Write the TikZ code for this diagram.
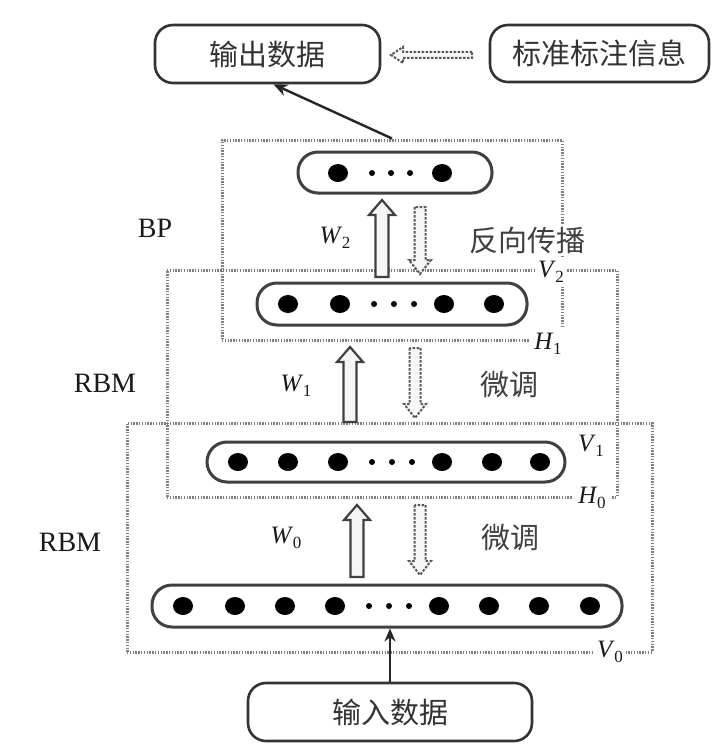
\documentclass[tikz,border=0pt]{standalone}
\usepackage{fontspec}
\setmainfont{Liberation Serif}
\newfontfamily\cjk{Noto Sans CJK SC}
\usetikzlibrary{arrows.meta,shapes.geometric}
\newcommand\sublab[2]{\textit{#1}\kern-0.5pt\raisebox{-0.45ex}{\fontsize{17}{18}\selectfont #2}}
\newcommand\hollowupar[3]{%
  \draw[hollowup] (#1-6.5,#2) -- (#1-6.5,#3+15) -- (#1-13,#3+15) -- (#1,#3) -- (#1+13,#3+15) -- (#1+6.5,#3+15) -- (#1+6.5,#2) -- cycle;}
\newcommand\hollowdownar[3]{%
  \draw[hollowdown] (#1-5.5,#2) -- (#1-5.5,#3-14) -- (#1-11,#3-14) -- (#1,#3) -- (#1+11,#3-14) -- (#1+5.5,#3-14) -- (#1+5.5,#2) -- cycle;}
\tikzset{
  rbox/.style={draw=black!80, line width=2.6pt, rounded corners=18pt, inner sep=0,
    font=\cjk\fontsize{29}{32}\selectfont, text=black!80},
  layer/.style={draw=black!75, line width=3pt, rounded corners=20pt, inner sep=0},
  bigdot/.style={fill=black, draw=none, ellipse, minimum width=20pt, minimum height=18pt, inner sep=0},
  smalldot/.style={fill=black, draw=none, circle, minimum size=6pt, inner sep=0},
  dotbox/.style={draw=black!50, line width=3pt, dash pattern=on 1.4pt off 1.4pt, inner sep=0},
  hollowup/.style={draw=black!75, line width=2.2pt, fill=black!4},
  hollowdown/.style={draw=black!65, line width=2pt, dash pattern=on 2.5pt off 1.5pt, fill=black!3},
  cjklab/.style={font=\cjk\fontsize{29}{32}\selectfont, text=black!75},
  serlab/.style={font=\fontsize{28}{30}\selectfont, text=black!90},
  varlab/.style={font=\fontsize{25}{28}\selectfont, text=black!90, inner sep=3pt},
  coverlab/.style={varlab, fill=white},
}
\begin{document}
\begin{tikzpicture}[x=1pt,y=-1pt]
\useasboundingbox[fill=white] (0,0) rectangle (717,752);

% dotted frames
\node[dotbox, minimum width=340pt, minimum height=200pt] (bp) at (392,240) {};
\node[dotbox, minimum width=450pt, minimum height=227pt] (rbm1) at (392,383.5) {};
\node[dotbox, minimum width=525pt, minimum height=229pt] (rbm0) at (389.5,537.5) {};

% top boxes
\node[rbox, minimum width=225pt, minimum height=58pt] (out) at (267.5,54) {输出数据};
\node[rbox, minimum width=219pt, minimum height=57pt] (std) at (599.5,53.5) {标准标注信息};
\node[rbox, minimum width=284pt, minimum height=58pt] (in) at (390,712) {输入数据};

% layers
\node[layer, minimum width=194pt, minimum height=41pt] (L3) at (395,172.5) {};
\node[layer, minimum width=270pt, minimum height=42pt] (L2) at (392,304) {};
\node[layer, minimum width=358pt, minimum height=40pt] (L1) at (386,462) {};
\node[layer, minimum width=470pt, minimum height=42pt] (L0) at (387,606) {};

\foreach \x [count=\i] in {338,442} \node[bigdot] (d3\i) at (\x,173) {};
\foreach \x [count=\i] in {372,391,410} \node[smalldot] (s3\i) at (\x,173) {};
\foreach \x [count=\i] in {288,340,444,494} \node[bigdot] (d2\i) at (\x,304) {};
\foreach \x [count=\i] in {374,394,414} \node[smalldot] (s2\i) at (\x,304) {};
\foreach \x [count=\i] in {238,288,338,442,492,540} \node[bigdot] (d1\i) at (\x,462) {};
\foreach \x [count=\i] in {372,392,412} \node[smalldot] (s1\i) at (\x,462) {};
\foreach \x [count=\i] in {183,235,285,335,439,489,539,590} \node[bigdot] (d0\i) at (\x,606) {};
\foreach \x [count=\i] in {369,389,409} \node[smalldot] (s0\i) at (\x,606) {};

% hollow arrows
\hollowupar{382}{277}{200}
\hollowdownar{420}{207}{274}
\hollowupar{350}{422}{347}
\hollowdownar{415}{348}{418}
\hollowupar{357}{577}{505}
\hollowdownar{420}{505}{575}

% dashed arrow between top boxes
\draw[hollowdown] (472,52) -- (403,52) -- (403,47) -- (391,55) -- (403,63) -- (403,58) -- (472,58) -- cycle;

% solid arrows
\draw[line width=2.4pt, black!85, -{Stealth[length=14pt,width=12pt]}] (bp.north) -- ([xshift=6pt]out.south);
\draw[line width=2.4pt, black!85, -{Stealth[length=13pt,width=11pt]}] (in.north) -- (in.north |- L0.south);

% labels
\node[serlab] (lbp) at (155,228) {BP};
\node[serlab] (lr1) at (105,383) {RBM};
\node[serlab] (lr0) at (70,542) {RBM};
\node[varlab] (w2) at (335,238) {\sublab{W}{2}};
\node[varlab] (w1) at (296,386) {\sublab{W}{1}};
\node[varlab] (w0) at (286,538) {\sublab{W}{0}};
\node[cjklab, fill=white, inner sep=2pt] (fx) at (527,240) {反向传播};
\node[cjklab] (wt1) at (509,385) {微调};
\node[cjklab] (wt0) at (510,538) {微调};
\node[coverlab] (v2) at (551,272) {\sublab{V}{2}};
\node[coverlab, inner sep=5pt] (h1) at (548,344) {\sublab{H}{1}};
\node[varlab] (v1) at (591,446) {\sublab{V}{1}};
\node[coverlab, inner sep=5pt] (h0) at (592,498) {\sublab{H}{0}};
\node[coverlab] (v0) at (610,652) {\sublab{V}{0}};
\end{tikzpicture}
\end{document}
